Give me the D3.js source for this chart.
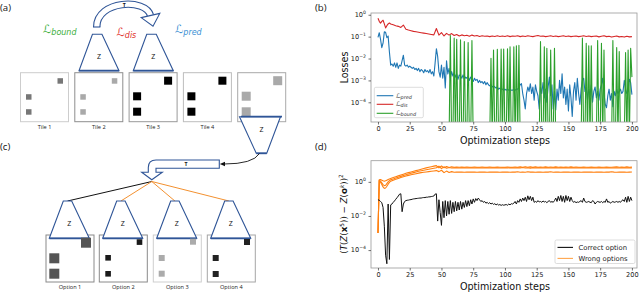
<!DOCTYPE html>
<html lang="en">
<head>
  <meta charset="utf-8">
  <title>Tile puzzle losses</title>
  <script src="https://d3js.org/d3.v7.min.js"></script>
  <style>
    body { margin: 0; background: #fff; }
    svg { display: block; }
  </style>
</head>
<body>
<svg id="fig" width="640" height="294"></svg>
<script>
// ---- data (log10 of the plotted values) ----
const steps = d3.range(0, 201);
const coarseSteps = [0, 1, 2, 3, 4, 5, 6, 7, 8, 9].concat(d3.range(10, 201, 2));

// panel (b) : L_pred, one value per step
const predExp = [
  -1.03, -0.82, -1.12, -1.5, -1.3, -0.78, -0.8, -1.05, -0.97, -1.7,
  -2.3, -2.25, -2.35, -2.2, -2.4, -2.2, -2.45, -2.3, -2.35, -2.1,
  -1.85, -2.3, -2.35, -2.3, -2.4, -2.35, -2.4, -2.45, -2.4, -2.5,
  -2.45, -2.55, -2.45, -2.6, -2.5, -2.55, -2.65, -2.5, -2.6, -2.55,
  -2.65, -2.5, -2.7, -2.6, -2.8, -2.2, -1.55, -1.9, -2.6, -2.85,
  -2.3, -2.9, -2.4, -3.35, -2.1, -2.7, -2.45, -2.9, -2.6, -2.8,
  -2.65, -2.85, -2.7, -2.95, -2.75, -2.8, -2.9, -2.75, -2.95, -2.85,
  -2.9, -2.8, -3.0, -2.85, -2.95, -3.05, -2.9, -3.0, -2.95, -3.1,
  -3.0, -3.1, -3.05, -3.15, -3.05, -3.2, -3.1, -3.2, -3.25, -3.2,
  -3.3, -3.25, -3.3, -3.35, -3.3, -3.4, -3.35, -3.4, -3.4, -3.45,
  -3.4, -3.45, -3.4, -3.45, -3.4, -3.45, -3.45, -3.4, -3.45, -3.4,
  -3.4, -3.35, -3.2, -3.15, -3.6, -3.9, -4.3, -3.6, -3.3, -3.5,
  -3.15, -3.6, -3.3, -3.9, -3.2, -3.5, -3.7, -4.3, -3.3, -3.6,
  -3.1, -3.8, -3.4, -4.0, -3.3, -2.85, -3.7, -3.2, -4.3, -3.5,
  -4.35, -3.4, -3.9, -3.0, -3.6, -2.7, -3.8, -3.3, -4.1, -3.4,
  -4.4, -3.2, -3.8, -4.65, -3.5, -3.1, -3.9, -2.9, -3.6, -4.1,
  -3.4, -3.0, -2.9, -3.5, -3.3, -3.9, -3.4, -3.7, -3.2, -4.0,
  -3.5, -3.3, -3.8, -3.5, -3.9, -3.4, -3.2, -2.9, -3.6, -4.1,
  -4.25, -3.7, -3.4, -3.9, -3.6, -4.2, -3.5, -3.7, -3.4, -3.6,
  -3.5, -3.4, -3.6, -3.5, -3.0, -3.4, -3.6, -3.5, -2.95, -3.1,
  -3.65
];

// panel (b) : L_dis, on coarseSteps
const disExp = [
  -0.16, -0.3, -0.38, -0.3, -0.25, -0.42, -0.6, -0.5, -0.42, -0.38,
  -0.42, -0.46, -0.5, -0.53, -0.58, -0.47, -0.66, -0.7, -0.73, -0.76,
  -0.78, -0.8, -0.82, -0.84, -0.86, -0.88, -0.9, -0.92, -0.63, -0.93,
  -0.82, -0.97, -0.85, -0.93, -0.86, -0.95, -0.9, -0.97, -0.92, -0.96,
  -0.94, -0.98, -0.93, -0.97, -0.95, -0.99, -0.96, -0.98, -0.97, -1.0,
  -0.97, -0.99, -0.96, -0.99, -0.97,
  -0.99, -0.96, -1.0, -0.97, -0.98, -0.96, -1.0, -0.97, -0.99, -0.96,
  -0.98, -1.0, -0.97, -0.95, -0.98, -0.97, -1.0, -0.98, -0.96, -0.99,
  -0.97, -1.0, -0.98, -0.96, -0.99,
  -0.97, -1.0, -0.98, -0.97, -1.0, -0.98, -0.96, -0.99, -0.97, -1.0,
  -0.98, -0.97, -1.01, -0.98, -0.96, -1.0, -0.98, -1.02, -0.99, -0.97,
  -1.01, -0.99, -1.02, -0.98, -1.01, -1.0
];

// panel (b) : L_bound is zero except at these steps
const boundSteps = [57, 60, 62, 65, 68, 71, 74,
  89, 91, 94, 97, 99, 102, 104, 107, 109, 111,
  128, 131, 133, 136, 139,
  161, 164, 166, 168,
  173, 176, 178,
  185, 188, 190,
  195, 197, 199, 200];
const boundExp = [-0.95, -1.07, -1.12, -1.15, -1.23, -1.27, -1.18,
  -1.99, -1.61, -1.58, -1.57, -1.57, -1.55, -1.46, -1.46, -1.42, -1.4,
  -1.23, -1.46, -1.53, -1.61, -1.53,
  -1.07, -1.3, -1.42, -1.42,
  -1.18, -1.3, -1.61,
  -1.18, -1.5, -1.68,
  -1.73, -1.61, -1.53, -2.85];

// panel (d) : correct option, one value per step
const correctExp = [
  -1.05, -1.08, -1.15, -1.22, -1.5, -2.6, -4.3, -4.8, -1.3, -4.55,
  -1.35, -1.3, -1.2, -1.12, -1.02, -0.93, -0.83, -0.72, -0.7, -1.75,
  -1.3, -1.15, -1.1, -1.08, -1.07, -1.05, -1.04, -1.02, -1.0, -0.99,
  -0.98, -0.97, -0.96, -0.95, -0.95, -0.93, -0.92, -0.92, -0.9, -0.9,
  -0.88, -0.88, -0.86, -0.85, -0.83, -0.72, -0.7, -2.3, -1.05, -1.8,
  -2.55, -1.15, -2.1, -1.1, -2.0, -1.15, -1.9, -1.1, -1.85, -1.2,
  -1.75, -1.15, -1.7, -1.2, -1.65, -1.15, -1.6, -1.2, -1.5, -1.1,
  -1.45, -1.1, -1.4, -1.05, -1.3, -1.0, -1.2, -0.98, -1.1, -0.95,
  -1.05, -1.15, -1.1, -1.2, -1.15, -1.25, -1.2, -1.28, -1.22, -1.3,
  -1.25, -1.32, -1.28, -1.35, -1.3, -1.36, -1.33, -1.38, -1.34, -1.37,
  -1.35, -1.33, -1.37, -1.3, -1.35, -1.28, -1.3, -1.25, -1.15, -1.3,
  -1.1, -1.2, -1.0, -1.15, -0.95, -1.1, -0.9, -1.15, -0.82, -1.05,
  -0.85, -1.1, -0.9, -1.2, -1.15, -1.2, -1.1, -1.18, -1.15, -1.2,
  -1.12, -1.18, -1.15, -1.22, -1.15, -1.1, -1.2, -1.15, -1.2, -1.1,
  -0.95, -1.15, -0.85, -1.1, -0.8, -1.15, -0.85, -1.2, -0.8, -1.1,
  -0.85, -1.15, -0.9, -1.1, -1.2, -1.15, -1.22, -1.18, -1.2, -1.15,
  -1.1, -1.2, -0.95, -1.15, -1.2, -1.18, -1.15, -1.2, -1.22, -1.1,
  -1.15, -1.3, -1.2, -1.15, -1.18, -1.2, -1.15, -1.22, -1.15, -1.2,
  -1.0, -1.2, -1.15, -1.25, -1.2, -1.15, -1.2, -1.18, -1.15, -1.2,
  -1.15, -1.2, -1.1, -1.05, -1.15, -0.9, -1.2, -0.85, -1.15, -0.9,
  -1.1
];

// panel (d) : three wrong options, on coarseSteps
const wrongAExp = [
  -3.0, 0.12, 0.14, 0.1, 0.06, 0.04, 0.06, 0.1, 0.14, 0.17,
  0.2, 0.25, 0.3, 0.35, 0.4, 0.45, 0.5, 0.54, 0.58, 0.62,
  0.66, 0.7, 0.74, 0.78, 0.82, 0.86, 0.89, 0.92, 0.95, 0.82,
  0.93, 0.82, 0.9, 0.84, 0.88, 0.86, 0.87, 0.86, 0.87, 0.86,
  0.87, 0.86, 0.86, 0.87, 0.86, 0.86, 0.87, 0.86, 0.86, 0.87,
  0.86, 0.86, 0.87, 0.86, 0.86,
  0.86, 0.87, 0.86, 0.86, 0.87, 0.86, 0.88, 0.86, 0.89, 0.86,
  0.88, 0.85, 0.88, 0.86, 0.87, 0.86, 0.88, 0.86, 0.87, 0.86,
  0.88, 0.86, 0.87, 0.86, 0.87,
  0.86, 0.88, 0.86, 0.87, 0.86, 0.86, 0.87, 0.86, 0.86, 0.87,
  0.86, 0.86, 0.87, 0.86, 0.86, 0.87, 0.86, 0.86, 0.87, 0.88,
  0.86, 0.87, 0.86, 0.88, 0.86, 0.87
];
const wrongBExp = [
  -3.0, 0.1, 0.04, -0.06, -0.16, -0.22, -0.2, -0.1, 0.0, 0.07,
  0.12, 0.17, 0.22, 0.27, 0.32, 0.37, 0.42, 0.46, 0.5, 0.54,
  0.58, 0.62, 0.65, 0.68, 0.71, 0.74, 0.77, 0.8, 0.83, 0.92,
  0.78, 0.88, 0.8, 0.84, 0.81, 0.83, 0.82, 0.81, 0.82, 0.83,
  0.81, 0.82, 0.82, 0.81, 0.82, 0.83, 0.81, 0.82, 0.82, 0.81,
  0.82, 0.83, 0.82, 0.81, 0.82,
  0.82, 0.81, 0.83, 0.82, 0.81, 0.83, 0.81, 0.84, 0.81, 0.83,
  0.8, 0.83, 0.81, 0.83, 0.82, 0.81, 0.83, 0.82, 0.81, 0.83,
  0.82, 0.81, 0.83, 0.82, 0.82,
  0.81, 0.83, 0.82, 0.81, 0.82, 0.83, 0.82, 0.81, 0.82, 0.82,
  0.83, 0.81, 0.82, 0.82, 0.81, 0.83, 0.82, 0.81, 0.82, 0.83,
  0.81, 0.82, 0.83, 0.81, 0.82, 0.82
];
const wrongCExp = [
  -3.0, 0.08, -0.02, -0.15, -0.3, -0.38, -0.36, -0.26, -0.14, -0.03,
  0.04, 0.1, 0.15, 0.2, 0.25, 0.3, 0.34, 0.38, 0.42, 0.45,
  0.48, 0.51, 0.54, 0.56, 0.58, 0.6, 0.62, 0.64, 0.66, 0.6,
  0.68, 0.54, 0.63, 0.55, 0.6, 0.56, 0.58, 0.57, 0.58, 0.56,
  0.58, 0.57, 0.57, 0.58, 0.56, 0.57, 0.58, 0.57, 0.56, 0.58,
  0.57, 0.57, 0.58, 0.56, 0.57,
  0.57, 0.58, 0.56, 0.58, 0.57, 0.59, 0.56, 0.58, 0.56, 0.59,
  0.57, 0.58, 0.56, 0.58, 0.57, 0.56, 0.58, 0.57, 0.59, 0.56,
  0.58, 0.57, 0.56, 0.58, 0.57,
  0.58, 0.56, 0.57, 0.58, 0.57, 0.56, 0.58, 0.57, 0.57, 0.58,
  0.56, 0.57, 0.58, 0.57, 0.56, 0.58, 0.57, 0.59, 0.57, 0.56,
  0.58, 0.57, 0.58, 0.56, 0.57, 0.58
];

const xTicks = [0, 25, 50, 75, 100, 125, 150, 175, 200];
const yTicksB = [0, -1, -2, -3, -4];
const yTicksD = [0, -2, -4];
const tileLabels = ["Tile 1", "Tile 2", "Tile 3", "Tile 4"];
const optionLabels = ["Option 1", "Option 2", "Option 3", "Option 4"];

// ---- styles ----
const BLUE = "#1f77b4", RED = "#d62728", GREEN = "#2ca02c", ORANGE = "#ff7f0e";
const DIAG = "#2f5597";
const MONO = "DejaVu Sans";
const SANS = "Open Sans";

const svg = d3.select("#fig");

// ================= panels (b) and (d) =================
const x = d3.scaleLinear().domain([-5.5, 204]).range([371, 637]);
const yB = d3.scaleLog().domain([10 ** -4.9, 10 ** 0.08]).range([122, 13]);
const yD = d3.scaleLog().domain([10 ** -5.05, 10 ** 1.24]).range([268, 160.7]);

function frame(y, id) {
  const [y0, y1] = y.range();
  svg.append("clipPath").attr("id", id)
    .append("rect").attr("x", 371).attr("y", y1).attr("width", 266).attr("height", y0 - y1);
}

function axes(y, ticksExp, tickY, titleY) {
  const [y0, y1] = y.range();
  const g = svg.append("g");
  g.append("rect").attr("x", 371).attr("y", y1).attr("width", 266).attr("height", y0 - y1)
    .attr("fill", "none").attr("stroke", "#9a9a9a").attr("stroke-width", 0.8);

  const xa = g.append("g").attr("transform", `translate(0,${y0})`)
    .call(d3.axisBottom(x).tickValues(xTicks).tickSize(2.5).tickPadding(1.5));
  xa.select(".domain").remove();
  xa.selectAll("line").attr("stroke", "#333").attr("stroke-width", 0.7);
  xa.selectAll("text").attr("font-family", MONO).attr("font-size", 6.6).attr("fill", "#222");

  const ya = g.append("g").attr("transform", "translate(371,0)")
    .call(d3.axisLeft(y).tickValues(ticksExp.map(e => 10 ** e)).tickSize(2.5).tickFormat(""));
  ya.select(".domain").remove();
  ya.selectAll("line").attr("stroke", "#333").attr("stroke-width", 0.7);
  ticksExp.forEach(e => {
    const t = g.append("text").attr("x", 366).attr("y", y(10 ** e) + 2.4)
      .attr("text-anchor", "end").attr("font-family", MONO).attr("fill", "#222");
    t.append("tspan").attr("font-size", 6.6).text("10");
    t.append("tspan").attr("font-size", 4.6).attr("dy", -3).text(e === 0 ? "0" : "\u2212" + (-e));
  });

  g.append("text").attr("x", 505).attr("y", titleY).attr("text-anchor", "middle")
    .attr("font-family", MONO).attr("font-size", 9.6).attr("fill", "#111").text("Optimization steps");
}

frame(yB, "clipB");
frame(yD, "clipD");

// ---- panel (b) ----
const gB = svg.append("g").attr("clip-path", "url(#clipB)");
const lineB = d3.line().x(d => x(d.s)).y(d => d.v === null ? 140 : yB(10 ** d.v));

const boundByStep = new Map(boundSteps.map((s, i) => [s, boundExp[i]]));
const boundData = steps.map(s => ({ s, v: boundByStep.has(s) ? boundByStep.get(s) : null }));
const predData = steps.map((s, i) => ({ s, v: predExp[i] })).filter(d => d.v !== undefined);
const disData = coarseSteps.map((s, i) => ({ s, v: disExp[i] })).filter(d => d.v !== undefined);

gB.append("path").datum(predData).attr("d", lineB)
  .attr("fill", "none").attr("stroke", BLUE).attr("stroke-width", 1.1).attr("stroke-linejoin", "round");
gB.append("path").datum(disData).attr("d", lineB)
  .attr("fill", "none").attr("stroke", RED).attr("stroke-width", 1.1).attr("stroke-linejoin", "round");
gB.append("path").datum(boundData).attr("d", lineB)
  .attr("fill", "none").attr("stroke", GREEN).attr("stroke-width", 1.1).attr("stroke-linejoin", "round");

axes(yB, yTicksB, 130, 143.5);

svg.append("text").attr("transform", "translate(348,67.5) rotate(-90)")
  .attr("text-anchor", "middle").attr("font-family", MONO).attr("font-size", 9.6)
  .attr("fill", "#111").text("Losses");

function lossText(parent, px, py, sub, color, big, small, drop) {
  const t = parent.append("text").attr("x", px).attr("y", py).attr("fill", color).attr("font-family", MONO);
  t.append("tspan").attr("font-size", big).text("\u2112");
  t.append("tspan").attr("font-size", small).attr("font-style", "italic").attr("dy", drop).text(sub);
  return t;
}

// legend (b)
const legB = svg.append("g");
legB.append("rect").attr("x", 374.3).attr("y", 87.3).attr("width", 49).attr("height", 30.4)
  .attr("rx", 1.5).attr("fill", "#fff").attr("fill-opacity", 0.85).attr("stroke", "#cfcfcf").attr("stroke-width", 0.7);
[["pred", BLUE, 95.7], ["dis", RED, 104.3], ["bound", GREEN, 113.3]].forEach(([sub, c, ly]) => {
  legB.append("line").attr("x1", 376.7).attr("x2", 393.3).attr("y1", ly).attr("y2", ly)
    .attr("stroke", c).attr("stroke-width", 1.1);
  lossText(legB, 396, ly + 1.8, sub, "#333", 6.4, 4.9, 1.2);
});

// ---- panel (d) ----
const gD = svg.append("g").attr("clip-path", "url(#clipD)");
const lineD = d3.line().x(d => x(d.s)).y(d => yD(10 ** d.v));
[wrongAExp, wrongBExp, wrongCExp].forEach(arr => {
  const data = coarseSteps.map((s, i) => ({ s, v: arr[i] })).filter(d => d.v !== undefined);
  gD.append("path").datum(data).attr("d", lineD)
    .attr("fill", "none").attr("stroke", ORANGE).attr("stroke-width", 1.1).attr("stroke-linejoin", "round");
});
const correctData = steps.map((s, i) => ({ s, v: correctExp[i] })).filter(d => d.v !== undefined);
gD.append("path").datum(correctData).attr("d", lineD)
  .attr("fill", "none").attr("stroke", "#111").attr("stroke-width", 1.0).attr("stroke-linejoin", "round");

axes(yD, yTicksD, 279, 290);

const yl = svg.append("text").attr("transform", "translate(347,214) rotate(-90)")
  .attr("text-anchor", "middle").attr("font-family", MONO).attr("font-size", 8.7).attr("fill", "#111");
yl.append("tspan").text("(");
yl.append("tspan").attr("font-style", "italic").text("T");
yl.append("tspan").text("(");
yl.append("tspan").attr("font-style", "italic").text("Z");
yl.append("tspan").text("(");
yl.append("tspan").attr("font-weight", "bold").text("x");
yl.append("tspan").attr("font-size", 5.8).attr("dy", -3.4).text("5");
yl.append("tspan").attr("dy", 3.4).text(")) \u2212 ");
yl.append("tspan").attr("font-style", "italic").text("Z");
yl.append("tspan").text("(");
yl.append("tspan").attr("font-weight", "bold").text("o");
yl.append("tspan").attr("font-size", 5.8).attr("font-style", "italic").attr("dy", -3.4).text("k");
yl.append("tspan").attr("dy", 3.4).text("))");
yl.append("tspan").attr("font-size", 5.8).attr("dy", -3.8).text("2");

// legend (d)
const legD = svg.append("g");
legD.append("rect").attr("x", 555).attr("y", 240).attr("width", 80).attr("height", 23.5)
  .attr("rx", 1.5).attr("fill", "#fff").attr("fill-opacity", 0.85).attr("stroke", "#cfcfcf").attr("stroke-width", 0.7);
[["Correct option", "#111", 247.4], ["Wrong options", "#ffa64d", 258.4]].forEach(([label, c, ly]) => {
  legD.append("line").attr("x1", 557.5).attr("x2", 573).attr("y1", ly).attr("y2", ly)
    .attr("stroke", c).attr("stroke-width", 1.1);
  legD.append("text").attr("x", 578.5).attr("y", ly + 2.4).attr("font-family", MONO)
    .attr("font-size", 6.8).attr("fill", "#222").text(label);
});

// panel letters
[["(a)", 0, 10.5], ["(b)", 315, 10.5], ["(c)", 0, 149.5], ["(d)", 315, 149.5]].forEach(([t, px, py]) => {
  svg.append("text").attr("x", px).attr("y", py).attr("font-family", SANS)
    .attr("font-size", 9.6).attr("fill", "#111").text(t);
});

// ================= diagrams (a) and (c) =================
const dg = svg.append("g");

function trapezoid(cx, yTop, yBot, wTop, wBot, topShift) {
  const tc = cx + topShift;
  dg.append("path")
    .attr("d", `M${tc - wTop / 2},${yTop} L${tc + wTop / 2},${yTop} L${cx + wBot / 2},${yBot} L${cx - wBot / 2},${yBot} Z`)
    .attr("fill", "#fff").attr("stroke", DIAG).attr("stroke-width", 1.1).attr("stroke-linejoin", "miter");
  dg.append("line").attr("x1", cx - wBot / 2).attr("x2", cx + wBot / 2).attr("y1", yBot).attr("y2", yBot)
    .attr("stroke", DIAG).attr("stroke-width", yBot > yTop ? 1.8 : 1.1);
}
function zLabel(px, py) {
  dg.append("text").attr("x", px).attr("y", py).attr("text-anchor", "middle")
    .attr("font-family", SANS).attr("font-size", 7).attr("fill", "#111").text("Z");
}
function tileBox(bx, by, w, h, border) {
  dg.append("rect").attr("x", bx).attr("y", by).attr("width", w).attr("height", h)
    .attr("fill", "#fff").attr("stroke", border).attr("stroke-width", 1);
}
function tileSquares(bx, by, size, fill, tr, l1, l2) {
  [tr, l1, l2].forEach(([dx, dy]) => {
    dg.append("rect").attr("x", bx + dx).attr("y", by + dy).attr("width", size).attr("height", size).attr("fill", fill);
  });
}

// (a) tiles
const tileX = [20.5, 74.8, 129.1, 183.4, 237.7];
const tileBorder = ["#cdcdcd", "#8e8e8e", "#999", "#bdbdbd", "#a9a9a9"];
tileX.forEach((bx, i) => tileBox(bx, 72.7, 48, 49, tileBorder[i]));
tileSquares(tileX[0], 72.7, 5.5, "#777", [37, 5.5], [5.5, 21.5], [5.5, 36.5]);
tileSquares(tileX[1], 72.7, 5.5, "#a9a9a9", [37, 5.5], [5.5, 21.5], [5.5, 36.5]);
tileSquares(tileX[2], 72.7, 8, "#000", [35, 4], [4, 19.6], [4, 35]);
tileSquares(tileX[3], 72.7, 8, "#000", [35, 4], [4, 19.6], [4, 35]);
tileSquares(tileX[4], 72.7, 9, "#a9a9a9", [35.5, 3.5], [4, 19], [4, 34.6]);
tileLabels.forEach((t, i) => {
  dg.append("text").attr("x", tileX[i] + 24).attr("y", 128.8).attr("text-anchor", "middle")
    .attr("font-family", SANS).attr("font-size", 5.6).attr("fill", "#222").text(t);
});

trapezoid(99, 34.3, 70.7, 9.5, 40, -1.8); zLabel(99, 58.5);
trapezoid(153.3, 34.3, 70.7, 9.5, 40, -1.8); zLabel(153.3, 58.5);
trapezoid(261.5, 116.7, 153.3, 41, 10.5, -1.5);
dg.append("line").attr("x1", 241).attr("x2", 282).attr("y1", 116.7).attr("y2", 116.7).attr("stroke", DIAG).attr("stroke-width", 1.8);
zLabel(261.5, 131.5);

// curved hollow arrow T
const arcPath = "M96.7,27 C96.7,0 146,-2 150.5,15.5";
dg.append("path").attr("d", arcPath).attr("fill", "none").attr("stroke", DIAG).attr("stroke-width", 7.4);
dg.append("path").attr("d", arcPath).attr("fill", "none").attr("stroke", "#fff").attr("stroke-width", 5.2);
dg.append("line").attr("x1", 93).attr("x2", 100.4).attr("y1", 27).attr("y2", 27).attr("stroke", DIAG).attr("stroke-width", 1.1);
dg.append("path").attr("d", "M141.2,17.6 L159.8,13.4 L153,26.2 Z")
  .attr("fill", "#fff").attr("stroke", DIAG).attr("stroke-width", 1.1).attr("stroke-linejoin", "miter");
dg.append("text").attr("x", 124.3).attr("y", 7.2).attr("text-anchor", "middle")
  .attr("font-family", SANS).attr("font-size", 5.2).attr("font-weight", "bold").attr("fill", "#111").text("T");

lossText(dg, 43, 33, "bound", "#3aae3a", 11.5, 8, 2.2);
lossText(dg, 116.5, 36, "dis", "#e0302a", 11.5, 8, 2.2);
lossText(dg, 175, 33, "pred", "#3a90d4", 11.5, 8, 2.2);

// (c) arrow bar T
dg.append("path")
  .attr("d", "M219.3,160 L156,160 Q148.3,160 148.3,167.5 L148.3,172.3 L141.7,172.3 L151.8,179.8 L162.3,172.3 L156,172.3 L156,168.3 L219.3,168.3 Z")
  .attr("fill", "#fff").attr("stroke", DIAG).attr("stroke-width", 1.1).attr("stroke-linejoin", "miter");
dg.append("text").attr("x", 186).attr("y", 166.2).attr("text-anchor", "middle")
  .attr("font-family", SANS).attr("font-size", 5.2).attr("font-weight", "bold").attr("fill", "#111").text("T");
dg.append("path").attr("d", "M259.5,153.5 Q253,164 224,164").attr("fill", "none").attr("stroke", "#111").attr("stroke-width", 0.9);
dg.append("path").attr("d", "M219.8,164 L225,161.7 L225,166.3 Z").attr("fill", "#111");

// (c) options
const optX = [46, 99.3, 153.3, 207.3];
const optBorder = ["#8a8a8a", "#8a8a8a", "#cfcfcf", "#a5a5a5"];
const trapCx = [69.3, 122.7, 176.7, 230.7];
trapCx.forEach((cx, i) => {
  dg.append("line").attr("x1", 151.8).attr("y1", 181.5).attr("x2", cx - 1.8).attr("y2", 201)
    .attr("stroke", i === 0 ? "#111" : "#f39130").attr("stroke-width", 1);
});
optX.forEach((bx, i) => tileBox(bx, 235, 48, 47, optBorder[i]));
trapCx.forEach(cx => { trapezoid(cx, 201, 238.3, 8.4, 40, -1.8); zLabel(cx, 225.5); });
tileSquares(optX[0], 235, 10, "#555", [35, 2.7], [3.3, 18.3], [3.3, 33.7]);
tileSquares(optX[1], 235, 5.6, "#1a1a1a", [37.4, 4.3], [6, 20], [6, 36]);
tileSquares(optX[2], 235, 6, "#ababab", [36.7, 3.7], [5.4, 20], [5.4, 35.7]);
tileSquares(optX[3], 235, 6, "#222", [36.7, 4], [5.4, 20], [5.4, 36]);
optionLabels.forEach((t, i) => {
  dg.append("text").attr("x", optX[i] + 24).attr("y", 289).attr("text-anchor", "middle")
    .attr("font-family", SANS).attr("font-size", 5.6).attr("fill", "#222").text(t);
});
</script>
</body>
</html>
